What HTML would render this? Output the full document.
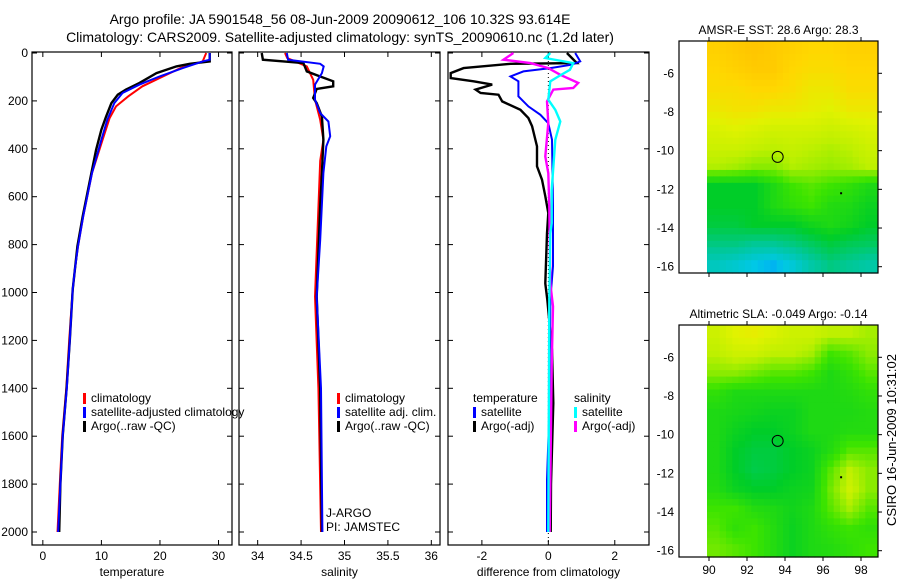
<!DOCTYPE html>
<html><head><meta charset="utf-8"><style>
body{margin:0;background:#fff;}
svg{display:block;font-family:"Liberation Sans",sans-serif;}
</style></head><body>
<svg id="fig" width="900" height="580">
<text x="340" y="24" font-size="14" text-anchor="middle">Argo profile: JA 5901548_56 08-Jun-2009 20090612_106 10.32S 93.614E</text>
<text x="340" y="42" font-size="14" text-anchor="middle">Climatology: CARS2009. Satellite-adjusted climatology: synTS_20090610.nc (1.2d later)</text>
<text transform="translate(896,440) rotate(-90)" font-size="13" text-anchor="middle">CSIRO 16-Jun-2009 10:31:02</text>
<g id="plots"></g>
</svg>
<script>
// ---- profile data (depth in m) ----
const tClimD=[0,35,63,98,139,181,223,272,362,501,682,807,900,988,1200,1400,1600,1800,2000];
const tClimV=[27.9,27.3,23.5,20.5,17,14.6,12.5,11.4,10.2,8.4,6.9,6.0,5.5,5.1,4.5,4.0,3.3,2.9,2.5];
const tSatD=[0,28,35,63,98,132,167,209,279,362,501,682,807,900,988,1200,1400,1600,1800,2000];
const tSatV=[28.5,28.5,27.3,23.9,19.9,16.5,13.6,12.2,11.0,10.0,8.4,6.9,6.0,5.5,5.1,4.6,4.1,3.4,3.0,2.6];
const tArgoD=[0,35,45,56,84,125,153,174,209,265,320,404,501,682,807,900,988,1200,1400,1600,1800,2000];
const tArgoV=[28.5,28.5,25.1,22.8,19.4,16.5,14.2,12.8,11.7,10.8,10.0,9.1,8.3,6.8,5.9,5.5,5.1,4.6,4.05,3.4,3.0,2.8];

const sClimD=[0,21,56,112,195,279,362,450,1017,1400,1600,2000];
const sClimV=[34.315,34.34,34.566,34.64,34.66,34.72,34.757,34.72,34.66,34.70,34.71,34.73];
const sSatD=[0,28,45,56,84,132,195,251,286,348,390,501,780,1017,1400,2000];
const sSatV=[34.335,34.35,34.72,34.76,34.74,34.66,34.66,34.72,34.815,34.835,34.79,34.757,34.72,34.68,34.73,34.745];
const sArgoD=[0,28,35,42,77,98,118,139,150,188,209,265,362,501,641,1017,1400,2000];
const sArgoV=[34.047,34.06,34.30,34.527,34.566,34.72,34.87,34.87,34.68,34.64,34.68,34.74,34.757,34.74,34.72,34.68,34.72,34.74];

const dTSatD=[0,35,49,63,77,98,118,181,223,258,293,362,641,890,1030,1500,1783,2000];
const dTSatV=[0.81,0.96,0.7,0.06,-0.75,-1.14,-0.9,-0.9,-0.6,-0.24,0,0.11,0.14,0.14,0.06,0.03,-0.04,-0.04];
const dTArgoD=[0,42,45,63,84,105,118,132,153,167,174,202,237,272,306,390,473,529,598,668,753,962,1030,1239,1462,1800,2000];
const dTArgoV=[0.56,0.86,-1.14,-2.55,-2.94,-2.94,-2.25,-1.69,-2.19,-2.04,-1.5,-1.39,-0.84,-0.6,-0.49,-0.34,-0.34,-0.19,-0.09,0,-0.04,-0.09,-0.03,0.11,0.15,0.08,0.07];
const dSSatD=[0,21,42,70,98,118,195,237,286,362,571,710,753,1030,2000];
const dSSatV=[0.06,-0.09,0.75,0.65,0.3,0.06,0,0.21,0.36,0.21,0.1,0.1,0.06,0.03,0.0];
const dSArgoD=[0,28,42,63,91,125,146,153,202,293,432,502,641,962,1058,1308,2000];
const dSArgoV=[-1.05,-1.35,-0.54,0,0.36,0.9,0.75,0.15,-0.04,0,-0.09,0,0.03,0.06,0.14,0.1,0.04];

const depthTicks=[0,200,400,600,800,1000,1200,1400,1600,1800,2000];
const tTicks=[0,10,20,30], sTicks=[34,34.5,35,35.5,36], dTicks=[-2,0,2];
const latTicks=[-6,-8,-10,-12,-14,-16], lonTicks=[90,92,94,96,98];

const sstGrid=[
[0.81,0.82,0.83,0.82,0.81,0.8,0.8,0.81,0.81],
[0.8,0.81,0.82,0.82,0.8,0.79,0.79,0.8,0.8],
[0.79,0.79,0.8,0.8,0.79,0.77,0.77,0.79,0.79],
[0.77,0.78,0.78,0.77,0.77,0.76,0.75,0.77,0.77],
[0.74,0.75,0.74,0.73,0.73,0.73,0.72,0.73,0.74],
[0.72,0.72,0.71,0.7,0.71,0.7,0.69,0.7,0.72],
[0.69,0.68,0.66,0.66,0.69,0.68,0.67,0.68,0.7],
[0.5,0.5,0.5,0.55,0.6,0.62,0.6,0.58,0.55],
[0.5,0.5,0.5,0.55,0.58,0.6,0.56,0.55,0.52],
[0.48,0.48,0.5,0.5,0.5,0.53,0.55,0.53,0.5],
[0.42,0.42,0.4,0.4,0.42,0.45,0.48,0.46,0.45],
[0.35,0.33,0.3,0.28,0.32,0.38,0.42,0.4,0.38]];
const slaGrid=[
[0.72,0.75,0.76,0.74,0.72,0.72,0.7,0.7,0.68],
[0.7,0.72,0.72,0.7,0.7,0.68,0.6,0.62,0.66],
[0.66,0.66,0.64,0.62,0.62,0.6,0.55,0.58,0.62],
[0.58,0.55,0.55,0.55,0.55,0.55,0.55,0.56,0.58],
[0.55,0.54,0.53,0.52,0.52,0.55,0.55,0.55,0.56],
[0.55,0.52,0.5,0.5,0.52,0.55,0.55,0.56,0.56],
[0.55,0.5,0.48,0.48,0.5,0.52,0.56,0.62,0.62],
[0.55,0.5,0.47,0.48,0.5,0.52,0.62,0.7,0.66],
[0.56,0.52,0.5,0.5,0.52,0.53,0.64,0.72,0.66],
[0.6,0.6,0.56,0.55,0.53,0.55,0.62,0.68,0.62],
[0.62,0.58,0.6,0.56,0.52,0.55,0.58,0.6,0.58],
[0.64,0.62,0.6,0.56,0.52,0.55,0.56,0.58,0.6]];
const argoLon=93.614, argoLat=-10.32;

const NS="http://www.w3.org/2000/svg";
const root=document.getElementById('plots');
function el(tag,attrs,parent){const e=document.createElementNS(NS,tag);for(const k in attrs)e.setAttribute(k,attrs[k]);(parent||root).appendChild(e);return e;}
const top0=52,bot0=545;
const yD=d=>53+d*0.2395;

function panel(name,x0,x1,dom,xt,xlabel,yl){
  const sx=v=>x0+(v-dom[0])/(dom[1]-dom[0])*(x1-x0);
  const g=el('g',{});
  
  
  const r=el('rect',{x:x0,y:top0,width:x1-x0,height:bot0-top0,fill:'none',stroke:'#000','stroke-width':1.2},g);
  
  
  depthTicks.forEach(d=>{const y=yD(d);
    el('line',{x1:x0,x2:x0+5,y1:y,y2:y,stroke:'#000'},g);
    el('line',{x1:x1,x2:x1-5,y1:y,y2:y,stroke:'#000'},g);
    if(yl){const t=el('text',{x:x0-4,y:y+4,'font-size':12,'text-anchor':'end'},g);t.textContent=d;
      
      }
  });
  xt.forEach(v=>{const x=sx(v);
    el('line',{x1:x,x2:x,y1:bot0,y2:bot0-5,stroke:'#000'},g);
    el('line',{x1:x,x2:x,y1:top0,y2:top0+5,stroke:'#000'},g);
    const t=el('text',{x:x,y:bot0+15,'font-size':12,'text-anchor':'middle'},g);t.textContent=v;
    
    
  });
  const xl=el('text',{x:(x0+x1)/2,y:576,'font-size':12,'text-anchor':'middle'},g);xl.textContent=xlabel;
  
  
  return sx;
}
function series(sx,D,V,color,w,name){
  const pts=D.map((d,i)=>sx(V[i]).toFixed(1)+','+yD(d).toFixed(1)).join(' ');
  const p=el('polyline',{points:pts,fill:'none',stroke:color,'stroke-width':w,'stroke-linejoin':'miter'});
  
  
}
function legend(x,y,items,name){
  const g=el('g',{});
  
  
  items.forEach((it,i)=>{
    const yy=y+i*14;
    if(it[1])el('rect',{x:x,y:yy-9,width:3,height:11,fill:it[1]},g);
    const t=el('text',{x:x+(it[2]===0?0:8),y:yy,'font-size':12},g);t.textContent=it[0];
    
    
  });
}
let sx=panel('temperature-panel',32,232,[-1.85,32.3],tTicks,'temperature',true);
series(sx,tClimD,tClimV,'#f00',2,'temp-climatology-line');
series(sx,tArgoD,tArgoV,'#000',2.4,'temp-argo-line');
series(sx,tSatD,tSatV,'#00f',2,'temp-satellite-line');
legend(83,402,[['climatology','#f00'],['satellite-adjusted climatology','#00f'],['Argo(..raw -QC)','#000']],'temperature-legend');
sx=panel('salinity-panel',239,440,[33.785,36.1],sTicks,'salinity',false);
series(sx,sClimD,sClimV,'#f00',2,'sal-climatology-line');
series(sx,sArgoD,sArgoV,'#000',2.4,'sal-argo-line');
series(sx,sSatD,sSatV,'#00f',2,'sal-satellite-line');
legend(337,402,[['climatology','#f00'],['satellite adj. clim.','#00f'],['Argo(..raw -QC)','#000']],'salinity-legend');
let t=el('text',{x:326,y:517,'font-size':12});t.textContent='J-ARGO';


t=el('text',{x:326,y:531,'font-size':12});t.textContent='PI: JAMSTEC';


sx=panel('difference-panel',448,649,[-3.02,3.03],dTicks,'difference from climatology',false);
el('line',{x1:sx(0),x2:sx(0),y1:yD(0),y2:yD(2050),stroke:'#000','stroke-dasharray':'1,3'});
series(sx,dTArgoD,dTArgoV,'#000',2.4,'temp-diff-argo-line');
series(sx,dTSatD,dTSatV,'#00f',2,'temp-diff-satellite-line');
series(sx,dSArgoD,dSArgoV,'#f0f',2.4,'sal-diff-argo-line');
series(sx,dSSatD,dSSatV,'#0ff',2.4,'sal-diff-satellite-line');
legend(473,402,[['temperature',null,0],['satellite','#00f'],['Argo(-adj)','#000']],'temperature-diff-legend');
legend(574,402,[['salinity',null,0],['satellite','#0ff'],['Argo(-adj)','#f0f']],'salinity-diff-legend');

const stops=[[0.25,[0,150,255]],[0.3,[0,200,230]],[0.4,[0,200,150]],[0.5,[0,205,40]],[0.6,[60,228,0]],[0.7,[190,240,0]],[0.75,[225,242,0]],[0.8,[255,215,0]],[0.86,[255,180,0]]];
function cmap(v){for(let i=1;i<stops.length;i++){if(v<=stops[i][0]){const a=stops[i-1],b=stops[i],f=Math.max(0,(v-a[0])/(b[0]-a[0]));return 'rgb('+a[1].map((c,k)=>Math.round(c+(b[1][k]-c)*f)).join(',')+')';}}return 'rgb(255,180,0)';}
function sample(grid,fi,fj){
  const R=grid.length-1,C=grid[0].length-1;
  fi=Math.max(0,Math.min(R,fi));fj=Math.max(0,Math.min(C,fj));
  const i0=Math.floor(fi),j0=Math.floor(fj),i1=Math.min(R,i0+1),j1=Math.min(C,j0+1),a=fi-i0,b=fj-j0;
  return grid[i0][j0]*(1-a)*(1-b)+grid[i1][j0]*a*(1-b)+grid[i0][j1]*(1-a)*b+grid[i1][j1]*a*b;
}

function map(name,top,grid,title,xlabels){
  const L=679,R=878,B=top+232;
  const lx=lon=>709+(lon-90)*19, ly=lat=>top+32.3+(-6-lat)*19.34;
  const g=el('g',{});
  
  
  const n=3;
  for(let i=0;i<12*n;i++)for(let j=0;j<9*n;j++){
    const v=sample(grid,(i+0.5)/n-0.5,(j+0.5)/n-0.5);
    el('rect',{x:(707+j*19/n).toFixed(2),y:(top+i*19.34/n).toFixed(2),width:(19/n+0.5).toFixed(2),height:(19.34/n+0.5).toFixed(2),fill:cmap(v)},g);
  }
  const fr=el('rect',{x:L,y:top,width:R-L,height:232,fill:'none',stroke:'#000','stroke-width':1.2},g);
  
  
  latTicks.forEach(l=>{const y=ly(l);el('line',{x1:R,x2:R+4,y1:y,y2:y,stroke:'#000'},g);
    const tt=el('text',{x:L-5,y:y+4,'font-size':12,'text-anchor':'end'},g);tt.textContent=l;
    
    });
  lonTicks.forEach(l=>{const x=lx(l);el('line',{x1:x,x2:x,y1:top,y2:top-4,stroke:'#000'},g);
    el('line',{x1:x,x2:x,y1:B,y2:B+4,stroke:'#000'},g);
    if(xlabels){const tt=el('text',{x:x,y:B+17,'font-size':12,'text-anchor':'middle'},g);tt.textContent=l;
      
      }});
  const c=el('circle',{cx:lx(argoLon),cy:ly(argoLat),r:5.5,fill:'none',stroke:'#000','stroke-width':1},g);
  
  
  el('rect',{x:lx(96.9),y:ly(-12.15),width:2,height:2,fill:'#000'},g);
  const tt=el('text',{x:(L+R)/2,y:top-7,'font-size':12,'text-anchor':'middle'},g);tt.textContent=title;
  
  
}
map('sst-map',41,sstGrid,'AMSR-E SST: 28.6 Argo: 28.3',false);
map('sla-map',325,slaGrid,'Altimetric SLA: -0.049 Argo: -0.14',true);
</script>
</body></html>
